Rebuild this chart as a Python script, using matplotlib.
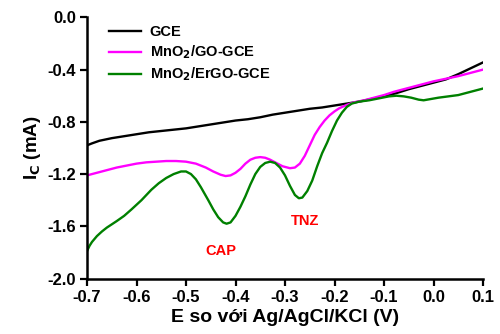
import matplotlib
matplotlib.use("Agg")
import matplotlib.pyplot as plt

# potentials (V) and currents (mA)
gce_x = [-0.700, -0.690, -0.675, -0.650, -0.625, -0.600, -0.575, -0.550, -0.525,
         -0.500, -0.475, -0.450, -0.425, -0.400, -0.375, -0.350, -0.325, -0.300,
         -0.275, -0.250, -0.225, -0.200, -0.175, -0.150, -0.125, -0.100, -0.075,
         -0.050, -0.025, 0.000, 0.025, 0.050, 0.075, 0.100]
gce_y = [-0.98, -0.965, -0.945, -0.925, -0.91, -0.895, -0.88, -0.87, -0.86,
         -0.85, -0.835, -0.82, -0.805, -0.79, -0.78, -0.765, -0.745, -0.73,
         -0.715, -0.70, -0.69, -0.675, -0.66, -0.645, -0.625, -0.605, -0.58,
         -0.55, -0.525, -0.50, -0.475, -0.435, -0.39, -0.345]

go_x = [-0.700, -0.680, -0.660, -0.640, -0.620, -0.600, -0.580, -0.560, -0.540,
        -0.520, -0.500, -0.480, -0.460, -0.445, -0.430, -0.420, -0.410, -0.400,
        -0.390, -0.380, -0.370, -0.360, -0.350, -0.340, -0.330, -0.320, -0.305,
        -0.290, -0.280, -0.270, -0.260, -0.250, -0.240, -0.230, -0.220, -0.210,
        -0.200, -0.190, -0.175, -0.160, -0.140, -0.120, -0.100, -0.080, -0.060,
        -0.040, -0.020, 0.000, 0.025, 0.050, 0.075, 0.100]
go_y = [-1.21, -1.19, -1.17, -1.15, -1.135, -1.12, -1.11, -1.105, -1.10,
        -1.10, -1.105, -1.12, -1.15, -1.18, -1.205, -1.215, -1.21, -1.19,
        -1.16, -1.12, -1.09, -1.075, -1.07, -1.075, -1.09, -1.11, -1.14,
        -1.155, -1.15, -1.12, -1.06, -0.98, -0.90, -0.84, -0.79, -0.75,
        -0.72, -0.695, -0.67, -0.65, -0.635, -0.615, -0.595, -0.57, -0.55,
        -0.53, -0.51, -0.49, -0.47, -0.45, -0.425, -0.40]

ergo_x = [-0.700, -0.695, -0.690, -0.680, -0.670, -0.660, -0.650, -0.640, -0.625,
          -0.610, -0.590, -0.570, -0.555, -0.540, -0.525, -0.510, -0.500, -0.490,
          -0.480, -0.470, -0.455, -0.445, -0.435, -0.425, -0.418, -0.410, -0.400,
          -0.390, -0.380, -0.370, -0.360, -0.350, -0.340, -0.330, -0.320, -0.310,
          -0.300, -0.290, -0.280, -0.272, -0.265, -0.255, -0.245, -0.235, -0.225,
          -0.215, -0.205, -0.195, -0.185, -0.175, -0.165, -0.150, -0.130, -0.110,
          -0.090, -0.075, -0.060, -0.045, -0.030, -0.020, -0.005, 0.010, 0.030,
          0.050, 0.070, 0.085, 0.100]
ergo_y = [-1.79, -1.75, -1.72, -1.675, -1.64, -1.61, -1.585, -1.56, -1.52,
          -1.47, -1.40, -1.32, -1.27, -1.23, -1.20, -1.18, -1.18, -1.20,
          -1.24, -1.30, -1.40, -1.47, -1.53, -1.57, -1.58, -1.57, -1.52,
          -1.45, -1.37, -1.28, -1.20, -1.145, -1.115, -1.105, -1.115, -1.15,
          -1.21, -1.29, -1.36, -1.385, -1.38, -1.33, -1.25, -1.14, -1.04,
          -0.96, -0.87, -0.79, -0.73, -0.685, -0.66, -0.645, -0.635, -0.62,
          -0.605, -0.60, -0.605, -0.615, -0.63, -0.635, -0.625, -0.615, -0.605,
          -0.595, -0.575, -0.56, -0.545]

labels = ["GCE", "MnO$_2$/GO-GCE", "MnO$_2$/ErGO-GCE"]
colors = ["black", "#FF00FF", "#008000"]

plt.rcParams['font.family'] = ['Liberation Sans', 'DejaVu Sans']
plt.rcParams['font.weight'] = 'bold'
plt.rcParams['mathtext.default'] = 'bf'

fig = plt.figure(figsize=(5, 3.34), dpi=100)
ax = fig.add_axes([0.174, 0.166, 0.792, 0.782])

ax.plot(gce_x, gce_y, color=colors[0], lw=1.7, label=labels[0], solid_joinstyle='round')
ax.plot(go_x, go_y, color=colors[1], lw=1.7, label=labels[1], solid_joinstyle='round')
ax.plot(ergo_x, ergo_y, color=colors[2], lw=1.7, label=labels[2], solid_joinstyle='round')

ax.text(-0.43, -1.79, "CAP", color="red", fontsize=10.5, fontweight="bold", ha="center", va="center")
ax.text(-0.26, -1.56, "TNZ", color="red", fontsize=10.5, fontweight="bold", ha="center", va="center")

ax.set_xlim(-0.7, 0.1)
ax.set_ylim(-2.0, 0.0)
ax.set_xticks([-0.7, -0.6, -0.5, -0.4, -0.3, -0.2, -0.1, 0.0, 0.1])
ax.set_yticks([0.0, -0.4, -0.8, -1.2, -1.6, -2.0])
ax.set_xticklabels(["-0.7", "-0.6", "-0.5", "-0.4", "-0.3", "-0.2", "-0.1", "0.0", "0.1"])
ax.set_yticklabels(["0.0", "-0.4", "-0.8", "-1.2", "-1.6", "-2.0"])
ax.tick_params(labelsize=12, width=1.6, length=5, direction='out', pad=3)
for lab in ax.get_xticklabels() + ax.get_yticklabels():
    lab.set_fontweight('bold')

for s in ['top', 'right']:
    ax.spines[s].set_visible(False)
for s in ['left', 'bottom']:
    ax.spines[s].set_linewidth(1.8)

ax.set_xlabel("E so với Ag/AgCl/KCl (V)", fontsize=14, fontweight='bold', labelpad=3)
ax.set_ylabel("I$_C$ (mA)", fontsize=13.5, fontweight='bold', labelpad=3)

ax.legend(loc='upper left', bbox_to_anchor=(0.022, 1.02), frameon=False,
          prop={'size': 10.5, 'weight': 'bold'}, handlelength=2.2,
          handletextpad=0.6, labelspacing=0.3)

fig.savefig("out.png", dpi=100)
